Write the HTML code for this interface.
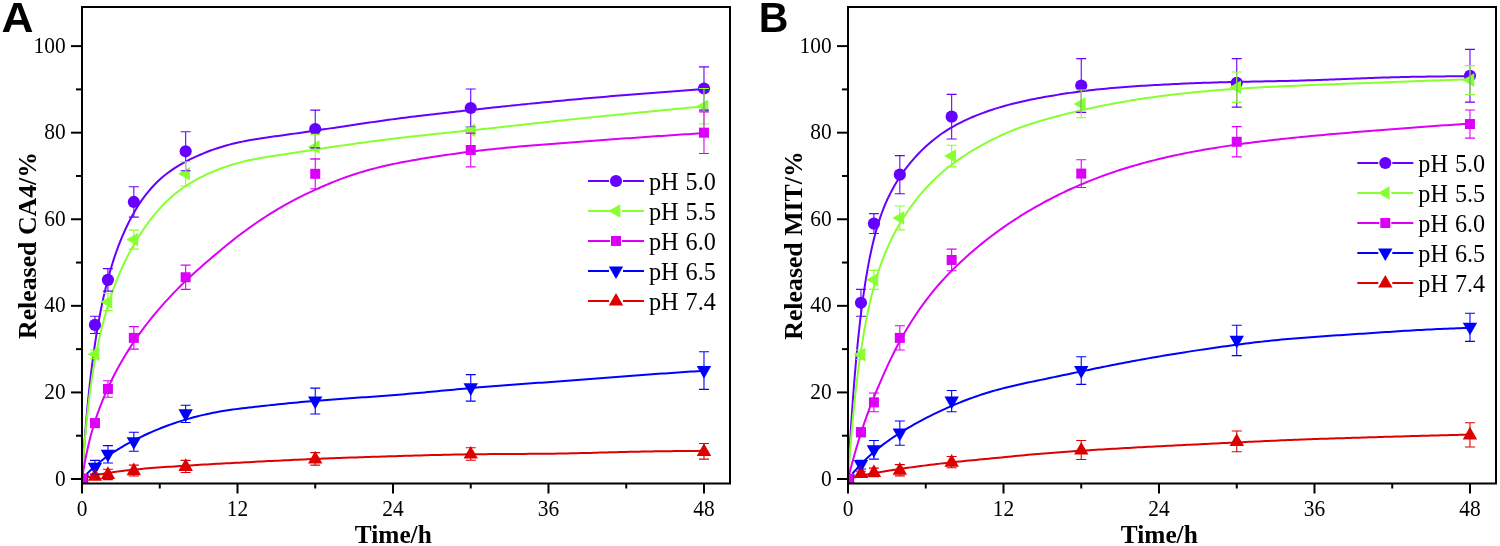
<!DOCTYPE html>
<html><head><meta charset="utf-8"><style>
html,body{margin:0;padding:0;background:#fff;overflow:hidden;}
svg{display:block;will-change:transform;}
.tk{font-family:"Liberation Serif",serif;font-size:23.8px;fill:#000;}
.ti{font-family:"Liberation Serif",serif;font-size:25.3px;font-weight:bold;fill:#000;}
.ti2{font-family:"Liberation Serif",serif;font-size:25.8px;font-weight:bold;fill:#000;}
.lg{font-family:"Liberation Serif",serif;font-size:24.2px;word-spacing:1px;fill:#000;}
.lt{font-family:"Liberation Sans",sans-serif;font-size:41px;font-weight:bold;fill:#000;}
</style></head><body>
<svg width="1500" height="546" viewBox="0 0 1500 546">
<defs><clipPath id="ca"><rect x="82" y="7" width="648" height="476.5"/></clipPath>
<clipPath id="cb"><rect x="848" y="7" width="648" height="476.5"/></clipPath></defs>
<g clip-path="url(#ca)"><polyline points="82.00,479.00 82.65,468.78 83.30,459.09 83.94,449.89 84.59,441.15 85.24,432.84 85.89,424.93 86.54,417.39 87.18,410.20 87.83,403.33 88.48,396.77 89.13,390.49 89.77,384.47 90.42,378.71 91.07,373.18 91.72,367.86 92.37,362.76 93.01,357.84 93.66,353.11 94.31,348.55 94.96,344.14 95.61,339.87 96.25,335.74 96.90,331.74 97.55,327.87 98.20,324.13 98.85,320.50 99.49,316.98 100.14,313.56 100.79,310.24 101.44,307.02 102.08,303.89 102.73,300.85 103.38,297.88 104.03,295.00 104.68,292.19 105.32,289.46 105.97,286.80 106.62,284.20 107.27,281.66 107.92,279.19 108.56,276.78 109.21,274.42 109.86,272.12 110.51,269.87 111.16,267.68 111.80,265.53 112.45,263.43 113.10,261.37 113.75,259.36 114.40,257.39 115.04,255.47 115.69,253.59 116.34,251.75 116.99,249.94 117.63,248.17 118.28,246.43 118.93,244.72 119.58,243.04 120.23,241.40 120.87,239.79 122.17,236.65 125.42,229.25 128.67,222.47 131.92,216.25 135.17,210.53 138.42,205.27 141.67,200.42 144.92,195.94 148.17,191.81 151.42,188.01 154.67,184.50 157.92,181.27 161.17,178.29 164.42,175.53 167.67,172.98 170.93,170.62 174.18,168.41 177.43,166.35 180.68,164.42 183.93,162.60 187.18,160.88 190.43,159.23 193.68,157.66 196.93,156.16 200.18,154.72 203.43,153.35 206.68,152.04 209.93,150.79 213.18,149.61 216.43,148.49 219.68,147.44 222.93,146.45 226.18,145.51 229.43,144.64 232.68,143.81 235.93,143.03 239.18,142.30 242.43,141.61 245.68,140.96 248.93,140.35 252.18,139.77 255.43,139.22 258.68,138.70 261.94,138.20 265.19,137.72 268.44,137.26 271.69,136.81 274.94,136.36 278.19,135.91 281.44,135.46 284.69,135.01 287.94,134.55 291.19,134.09 294.44,133.63 297.69,133.16 300.94,132.69 304.19,132.22 307.44,131.75 310.69,131.27 313.94,130.79 317.19,130.31 320.44,129.83 323.69,129.35 326.94,128.87 330.19,128.38 333.44,127.90 336.69,127.42 339.94,126.93 343.19,126.45 346.44,125.96 349.69,125.48 352.95,125.00 356.20,124.51 359.45,124.03 362.70,123.55 365.95,123.07 369.20,122.60 372.45,122.12 375.70,121.65 378.95,121.18 382.20,120.72 385.45,120.26 388.70,119.81 391.95,119.37 395.20,118.93 398.45,118.50 401.70,118.08 404.95,117.66 408.20,117.25 411.45,116.85 414.70,116.46 417.95,116.07 421.20,115.68 424.45,115.30 427.70,114.93 430.95,114.55 434.20,114.18 437.45,113.81 440.70,113.43 443.96,113.06 447.21,112.69 450.46,112.32 453.71,111.95 456.96,111.58 460.21,111.21 463.46,110.85 466.71,110.48 469.96,110.11 473.21,109.75 476.46,109.39 479.71,109.03 482.96,108.67 486.21,108.32 489.46,107.96 492.71,107.61 495.96,107.26 499.21,106.91 502.46,106.57 505.71,106.22 508.96,105.88 512.21,105.54 515.46,105.20 518.71,104.87 521.96,104.53 525.21,104.20 528.46,103.87 531.71,103.54 534.97,103.22 538.22,102.90 541.47,102.58 544.72,102.26 547.97,101.94 551.22,101.63 554.47,101.32 557.72,101.01 560.97,100.70 564.22,100.40 567.47,100.10 570.72,99.80 573.97,99.50 577.22,99.21 580.47,98.91 583.72,98.62 586.97,98.33 590.22,98.05 593.47,97.76 596.72,97.48 599.97,97.20 603.22,96.92 606.47,96.65 609.72,96.37 612.97,96.10 616.22,95.83 619.47,95.56 622.73,95.29 625.98,95.02 629.23,94.75 632.48,94.49 635.73,94.22 638.98,93.96 642.23,93.70 645.48,93.44 648.73,93.18 651.98,92.92 655.23,92.67 658.48,92.41 661.73,92.16 664.98,91.91 668.23,91.65 671.48,91.40 674.73,91.15 677.98,90.90 681.23,90.66 684.48,90.41 687.73,90.17 690.98,89.92 694.23,89.68 697.48,89.44 700.73,89.20 703.98,88.96" fill="none" stroke="#6600ff" stroke-width="2.0" stroke-linejoin="round"/>
<polyline points="82.00,479.00 82.65,469.18 83.30,460.01 83.94,451.42 84.59,443.37 85.24,435.82 85.89,428.70 86.54,422.00 87.18,415.68 87.83,409.70 88.48,404.04 89.13,398.66 89.77,393.55 90.42,388.69 91.07,384.05 91.72,379.62 92.37,375.39 93.01,371.32 93.66,367.42 94.31,363.68 94.96,360.07 95.61,356.54 96.25,353.14 96.90,349.84 97.55,346.65 98.20,343.56 98.85,340.55 99.49,337.63 100.14,334.79 100.79,332.03 101.44,329.34 102.08,326.71 102.73,324.15 103.38,321.64 104.03,319.20 104.68,316.80 105.32,314.47 105.97,312.18 106.62,309.93 107.27,307.74 107.92,305.59 108.56,303.48 109.21,301.42 109.86,299.39 110.51,297.41 111.16,295.46 111.80,293.55 112.45,291.68 113.10,289.84 113.75,288.03 114.40,286.26 115.04,284.56 115.69,282.88 116.34,281.23 116.99,279.60 117.63,278.01 118.28,276.44 118.93,274.89 119.58,273.36 120.23,271.86 120.87,270.39 122.17,267.50 125.42,260.60 128.67,254.17 131.92,248.14 135.17,242.48 138.42,237.14 141.67,232.09 144.92,227.30 148.17,222.76 151.42,218.47 154.67,214.41 157.92,210.57 161.17,206.96 164.42,203.56 167.67,200.37 170.93,197.39 174.18,194.59 177.43,191.98 180.68,189.53 183.93,187.24 187.18,185.09 190.43,183.07 193.68,181.17 196.93,179.36 200.18,177.65 203.43,176.02 206.68,174.47 209.93,172.99 213.18,171.58 216.43,170.25 219.68,168.98 222.93,167.78 226.18,166.64 229.43,165.56 232.68,164.55 235.93,163.60 239.18,162.71 242.43,161.87 245.68,161.08 248.93,160.35 252.18,159.66 255.43,159.02 258.68,158.42 261.94,157.85 265.19,157.31 268.44,156.79 271.69,156.29 274.94,155.79 278.19,155.30 281.44,154.81 284.69,154.31 287.94,153.81 291.19,153.31 294.44,152.80 297.69,152.29 300.94,151.78 304.19,151.27 307.44,150.76 310.69,150.25 313.94,149.75 317.19,149.25 320.44,148.75 323.69,148.25 326.94,147.77 330.19,147.28 333.44,146.80 336.69,146.32 339.94,145.85 343.19,145.38 346.44,144.91 349.69,144.45 352.95,143.99 356.20,143.54 359.45,143.09 362.70,142.64 365.95,142.21 369.20,141.77 372.45,141.34 375.70,140.92 378.95,140.50 382.20,140.08 385.45,139.67 388.70,139.27 391.95,138.87 395.20,138.47 398.45,138.08 401.70,137.70 404.95,137.32 408.20,136.94 411.45,136.57 414.70,136.21 417.95,135.85 421.20,135.49 424.45,135.14 427.70,134.79 430.95,134.44 434.20,134.10 437.45,133.76 440.70,133.43 443.96,133.09 447.21,132.76 450.46,132.43 453.71,132.10 456.96,131.77 460.21,131.44 463.46,131.11 466.71,130.78 469.96,130.45 473.21,130.11 476.46,129.77 479.71,129.43 482.96,129.08 486.21,128.73 489.46,128.38 492.71,128.03 495.96,127.68 499.21,127.32 502.46,126.96 505.71,126.60 508.96,126.24 512.21,125.88 515.46,125.52 518.71,125.16 521.96,124.80 525.21,124.44 528.46,124.08 531.71,123.72 534.97,123.35 538.22,122.99 541.47,122.64 544.72,122.28 547.97,121.92 551.22,121.56 554.47,121.21 557.72,120.86 560.97,120.51 564.22,120.16 567.47,119.82 570.72,119.47 573.97,119.13 577.22,118.79 580.47,118.45 583.72,118.12 586.97,117.78 590.22,117.45 593.47,117.12 596.72,116.79 599.97,116.46 603.22,116.13 606.47,115.81 609.72,115.48 612.97,115.16 616.22,114.83 619.47,114.51 622.73,114.19 625.98,113.87 629.23,113.55 632.48,113.23 635.73,112.91 638.98,112.59 642.23,112.27 645.48,111.96 648.73,111.64 651.98,111.32 655.23,111.01 658.48,110.69 661.73,110.37 664.98,110.06 668.23,109.74 671.48,109.42 674.73,109.11 677.98,108.79 681.23,108.48 684.48,108.16 687.73,107.85 690.98,107.53 694.23,107.22 697.48,106.90 700.73,106.59 703.98,106.27" fill="none" stroke="#88ff30" stroke-width="2.0" stroke-linejoin="round"/>
<polyline points="82.00,479.00 82.65,474.89 83.30,470.96 83.94,467.21 84.59,463.61 85.24,460.17 85.89,456.86 86.54,453.69 87.18,450.64 87.83,447.71 88.48,444.89 89.13,442.17 89.77,439.55 90.42,437.01 91.07,434.57 91.72,432.20 92.37,429.91 93.01,427.69 93.66,425.54 94.31,423.44 94.96,421.41 95.61,419.41 96.25,417.46 96.90,415.56 97.55,413.70 98.20,411.88 98.85,410.10 99.49,408.36 100.14,406.65 100.79,404.97 101.44,403.32 102.08,401.70 102.73,400.11 103.38,398.54 104.03,396.99 104.68,395.47 105.32,393.96 105.97,392.48 106.62,391.02 107.27,389.57 107.92,388.14 108.56,386.72 109.21,385.32 109.86,383.93 110.51,382.56 111.16,381.20 111.80,379.85 112.45,378.51 113.10,377.19 113.75,375.87 114.40,374.56 115.04,373.33 115.69,372.12 116.34,370.91 116.99,369.72 117.63,368.54 118.28,367.36 118.93,366.20 119.58,365.05 120.23,363.91 120.87,362.78 122.17,360.54 125.42,355.09 128.67,349.85 131.92,344.81 135.17,339.97 138.42,335.30 141.67,330.80 144.92,326.45 148.17,322.24 151.42,318.16 154.67,314.20 157.92,310.34 161.17,306.59 164.42,302.92 167.67,299.34 170.93,295.84 174.18,292.43 177.43,289.08 180.68,285.82 183.93,282.62 187.18,279.50 190.43,276.45 193.68,273.46 196.93,270.52 200.18,267.63 203.43,264.77 206.68,261.95 209.93,259.15 213.18,256.38 216.43,253.64 219.68,250.92 222.93,248.23 226.18,245.58 229.43,242.96 232.68,240.38 235.93,237.83 239.18,235.33 242.43,232.87 245.68,230.45 248.93,228.08 252.18,225.76 255.43,223.49 258.68,221.26 261.94,219.09 265.19,216.97 268.44,214.89 271.69,212.86 274.94,210.87 278.19,208.94 281.44,207.04 284.69,205.19 287.94,203.38 291.19,201.62 294.44,199.89 297.69,198.20 300.94,196.55 304.19,194.94 307.44,193.36 310.69,191.81 313.94,190.30 317.19,188.82 320.44,187.38 323.69,185.96 326.94,184.58 330.19,183.23 333.44,181.91 336.69,180.63 339.94,179.38 343.19,178.17 346.44,177.00 349.69,175.86 352.95,174.76 356.20,173.70 359.45,172.67 362.70,171.69 365.95,170.74 369.20,169.83 372.45,168.95 375.70,168.11 378.95,167.29 382.20,166.51 385.45,165.75 388.70,165.02 391.95,164.32 395.20,163.64 398.45,162.97 401.70,162.33 404.95,161.71 408.20,161.11 411.45,160.52 414.70,159.94 417.95,159.39 421.20,158.84 424.45,158.31 427.70,157.78 430.95,157.27 434.20,156.77 437.45,156.28 440.70,155.79 443.96,155.31 447.21,154.84 450.46,154.37 453.71,153.92 456.96,153.47 460.21,153.03 463.46,152.59 466.71,152.17 469.96,151.76 473.21,151.36 476.46,150.96 479.71,150.58 482.96,150.21 486.21,149.84 489.46,149.49 492.71,149.14 495.96,148.80 499.21,148.46 502.46,148.14 505.71,147.82 508.96,147.51 512.21,147.20 515.46,146.90 518.71,146.60 521.96,146.31 525.21,146.03 528.46,145.75 531.71,145.47 534.97,145.20 538.22,144.93 541.47,144.67 544.72,144.40 547.97,144.15 551.22,143.89 554.47,143.63 557.72,143.38 560.97,143.13 564.22,142.88 567.47,142.63 570.72,142.39 573.97,142.14 577.22,141.90 580.47,141.66 583.72,141.42 586.97,141.18 590.22,140.94 593.47,140.70 596.72,140.46 599.97,140.22 603.22,139.99 606.47,139.75 609.72,139.52 612.97,139.29 616.22,139.06 619.47,138.83 622.73,138.60 625.98,138.37 629.23,138.14 632.48,137.91 635.73,137.68 638.98,137.45 642.23,137.23 645.48,137.00 648.73,136.78 651.98,136.55 655.23,136.33 658.48,136.11 661.73,135.89 664.98,135.67 668.23,135.45 671.48,135.23 674.73,135.01 677.98,134.80 681.23,134.59 684.48,134.37 687.73,134.16 690.98,133.95 694.23,133.75 697.48,133.54 700.73,133.34 703.98,133.14" fill="none" stroke="#dc00f8" stroke-width="2.0" stroke-linejoin="round"/>
<polyline points="82.00,479.00 82.65,478.30 83.30,477.60 83.94,476.91 84.59,476.23 85.24,475.55 85.89,474.88 86.54,474.22 87.18,473.56 87.83,472.91 88.48,472.27 89.13,471.63 89.77,471.00 90.42,470.37 91.07,469.75 91.72,469.14 92.37,468.53 93.01,467.93 93.66,467.33 94.31,466.74 94.96,466.16 95.61,465.59 96.25,465.02 96.90,464.46 97.55,463.91 98.20,463.37 98.85,462.83 99.49,462.29 100.14,461.77 100.79,461.25 101.44,460.73 102.08,460.22 102.73,459.72 103.38,459.23 104.03,458.74 104.68,458.25 105.32,457.77 105.97,457.30 106.62,456.83 107.27,456.37 107.92,455.91 108.56,455.46 109.21,455.02 109.86,454.58 110.51,454.15 111.16,453.72 111.80,453.29 112.45,452.87 113.10,452.46 113.75,452.05 114.40,451.65 115.04,451.23 115.69,450.81 116.34,450.40 116.99,449.99 117.63,449.58 118.28,449.18 118.93,448.78 119.58,448.38 120.23,447.99 120.87,447.60 122.17,446.83 125.42,444.96 128.67,443.16 131.92,441.42 135.17,439.75 138.42,438.13 141.67,436.55 144.92,435.02 148.17,433.53 151.42,432.09 154.67,430.69 157.92,429.34 161.17,428.03 164.42,426.76 167.67,425.54 170.93,424.36 174.18,423.23 177.43,422.14 180.68,421.09 183.93,420.08 187.18,419.11 190.43,418.19 193.68,417.30 196.93,416.46 200.18,415.65 203.43,414.88 206.68,414.15 209.93,413.46 213.18,412.80 216.43,412.18 219.68,411.60 222.93,411.04 226.18,410.52 229.43,410.03 232.68,409.56 235.93,409.12 239.18,408.70 242.43,408.30 245.68,407.91 248.93,407.54 252.18,407.17 255.43,406.80 258.68,406.44 261.94,406.08 265.19,405.73 268.44,405.38 271.69,405.03 274.94,404.68 278.19,404.35 281.44,404.01 284.69,403.68 287.94,403.36 291.19,403.04 294.44,402.72 297.69,402.41 300.94,402.11 304.19,401.81 307.44,401.52 310.69,401.24 313.94,400.97 317.19,400.70 320.44,400.44 323.69,400.18 326.94,399.93 330.19,399.69 333.44,399.45 336.69,399.21 339.94,398.98 343.19,398.74 346.44,398.51 349.69,398.28 352.95,398.06 356.20,397.83 359.45,397.60 362.70,397.37 365.95,397.14 369.20,396.91 372.45,396.67 375.70,396.44 378.95,396.20 382.20,395.95 385.45,395.71 388.70,395.46 391.95,395.20 395.20,394.94 398.45,394.68 401.70,394.41 404.95,394.13 408.20,393.85 411.45,393.57 414.70,393.28 417.95,392.98 421.20,392.68 424.45,392.39 427.70,392.08 430.95,391.78 434.20,391.47 437.45,391.17 440.70,390.86 443.96,390.56 447.21,390.25 450.46,389.95 453.71,389.64 456.96,389.34 460.21,389.04 463.46,388.75 466.71,388.46 469.96,388.17 473.21,387.89 476.46,387.61 479.71,387.34 482.96,387.07 486.21,386.80 489.46,386.54 492.71,386.28 495.96,386.02 499.21,385.77 502.46,385.52 505.71,385.27 508.96,385.02 512.21,384.78 515.46,384.54 518.71,384.30 521.96,384.06 525.21,383.82 528.46,383.58 531.71,383.34 534.97,383.11 538.22,382.87 541.47,382.63 544.72,382.40 547.97,382.16 551.22,381.92 554.47,381.68 557.72,381.44 560.97,381.19 564.22,380.95 567.47,380.70 570.72,380.46 573.97,380.21 577.22,379.96 580.47,379.71 583.72,379.46 586.97,379.20 590.22,378.95 593.47,378.70 596.72,378.45 599.97,378.19 603.22,377.94 606.47,377.69 609.72,377.44 612.97,377.19 616.22,376.94 619.47,376.69 622.73,376.44 625.98,376.20 629.23,375.95 632.48,375.71 635.73,375.47 638.98,375.23 642.23,374.99 645.48,374.76 648.73,374.52 651.98,374.29 655.23,374.06 658.48,373.83 661.73,373.61 664.98,373.38 668.23,373.16 671.48,372.94 674.73,372.71 677.98,372.49 681.23,372.27 684.48,372.06 687.73,371.84 690.98,371.62 694.23,371.40 697.48,371.19 700.73,370.97 703.98,370.75" fill="none" stroke="#0000ff" stroke-width="2.0" stroke-linejoin="round"/>
<polyline points="82.00,479.00 82.65,478.78 83.30,478.57 83.94,478.37 84.59,478.16 85.24,477.97 85.89,477.77 86.54,477.58 87.18,477.40 87.83,477.22 88.48,477.04 89.13,476.87 89.77,476.70 90.42,476.53 91.07,476.36 91.72,476.20 92.37,476.05 93.01,475.89 93.66,475.74 94.31,475.59 94.96,475.45 95.61,475.30 96.25,475.16 96.90,475.03 97.55,474.89 98.20,474.76 98.85,474.63 99.49,474.50 100.14,474.37 100.79,474.25 101.44,474.12 102.08,474.00 102.73,473.88 103.38,473.77 104.03,473.65 104.68,473.54 105.32,473.42 105.97,473.31 106.62,473.20 107.27,473.10 107.92,472.99 108.56,472.88 109.21,472.78 109.86,472.68 110.51,472.57 111.16,472.47 111.80,472.37 112.45,472.28 113.10,472.18 113.75,472.08 114.40,471.99 115.04,471.90 115.69,471.80 116.34,471.72 116.99,471.63 117.63,471.54 118.28,471.45 118.93,471.37 119.58,471.28 120.23,471.20 120.87,471.12 122.17,470.96 125.42,470.57 128.67,470.20 131.92,469.85 135.17,469.52 138.42,469.21 141.67,468.90 144.92,468.61 148.17,468.34 151.42,468.07 154.67,467.81 157.92,467.56 161.17,467.32 164.42,467.09 167.67,466.86 170.93,466.64 174.18,466.42 177.43,466.20 180.68,465.99 183.93,465.79 187.18,465.58 190.43,465.38 193.68,465.19 196.93,464.99 200.18,464.80 203.43,464.61 206.68,464.42 209.93,464.24 213.18,464.05 216.43,463.87 219.68,463.69 222.93,463.51 226.18,463.34 229.43,463.16 232.68,462.99 235.93,462.81 239.18,462.64 242.43,462.47 245.68,462.30 248.93,462.13 252.18,461.96 255.43,461.79 258.68,461.62 261.94,461.46 265.19,461.29 268.44,461.12 271.69,460.96 274.94,460.80 278.19,460.63 281.44,460.47 284.69,460.32 287.94,460.16 291.19,460.00 294.44,459.85 297.69,459.70 300.94,459.55 304.19,459.40 307.44,459.26 310.69,459.12 313.94,458.98 317.19,458.84 320.44,458.71 323.69,458.58 326.94,458.45 330.19,458.33 333.44,458.20 336.69,458.08 339.94,457.96 343.19,457.85 346.44,457.73 349.69,457.62 352.95,457.50 356.20,457.39 359.45,457.28 362.70,457.17 365.95,457.07 369.20,456.96 372.45,456.86 375.70,456.75 378.95,456.65 382.20,456.55 385.45,456.45 388.70,456.35 391.95,456.25 395.20,456.15 398.45,456.05 401.70,455.96 404.95,455.86 408.20,455.76 411.45,455.67 414.70,455.57 417.95,455.48 421.20,455.39 424.45,455.30 427.70,455.21 430.95,455.12 434.20,455.04 437.45,454.96 440.70,454.88 443.96,454.80 447.21,454.73 450.46,454.66 453.71,454.59 456.96,454.52 460.21,454.46 463.46,454.41 466.71,454.36 469.96,454.31 473.21,454.26 476.46,454.22 479.71,454.19 482.96,454.16 486.21,454.13 489.46,454.10 492.71,454.08 495.96,454.05 499.21,454.03 502.46,454.01 505.71,454.00 508.96,453.98 512.21,453.96 515.46,453.95 518.71,453.93 521.96,453.91 525.21,453.89 528.46,453.87 531.71,453.85 534.97,453.83 538.22,453.80 541.47,453.77 544.72,453.74 547.97,453.71 551.22,453.67 554.47,453.63 557.72,453.58 560.97,453.53 564.22,453.47 567.47,453.41 570.72,453.34 573.97,453.27 577.22,453.20 580.47,453.12 583.72,453.04 586.97,452.96 590.22,452.88 593.47,452.79 596.72,452.71 599.97,452.62 603.22,452.53 606.47,452.45 609.72,452.36 612.97,452.27 616.22,452.18 619.47,452.10 622.73,452.02 625.98,451.93 629.23,451.86 632.48,451.78 635.73,451.71 638.98,451.64 642.23,451.57 645.48,451.51 648.73,451.45 651.98,451.40 655.23,451.34 658.48,451.29 661.73,451.25 664.98,451.21 668.23,451.16 671.48,451.13 674.73,451.09 677.98,451.06 681.23,451.02 684.48,450.99 687.73,450.96 690.98,450.93 694.23,450.91 697.48,450.88 700.73,450.85 703.98,450.83" fill="none" stroke="#dd0000" stroke-width="2.0" stroke-linejoin="round"/>
<circle cx="94.96" cy="324.89" r="6.1" fill="#6600ff"/>
<circle cx="107.92" cy="279.87" r="6.1" fill="#6600ff"/>
<circle cx="133.83" cy="201.94" r="6.1" fill="#6600ff"/>
<circle cx="185.66" cy="151.29" r="6.1" fill="#6600ff"/>
<circle cx="315.24" cy="129.00" r="6.1" fill="#6600ff"/>
<circle cx="470.74" cy="108.00" r="6.1" fill="#6600ff"/>
<circle cx="703.98" cy="88.52" r="6.1" fill="#6600ff"/>
<path d="M99.26,347.52v13.6L87.36,354.32Z" fill="#88ff30"/>
<path d="M112.22,295.14v13.6L100.32,301.94Z" fill="#88ff30"/>
<path d="M138.13,232.81v13.6L126.23,239.61Z" fill="#88ff30"/>
<path d="M189.96,167.01v13.6L178.06,173.81Z" fill="#88ff30"/>
<path d="M319.54,140.17v13.6L307.64,146.97Z" fill="#88ff30"/>
<path d="M475.04,123.46v13.6L463.14,130.26Z" fill="#88ff30"/>
<path d="M708.28,99.47v13.6L696.38,106.27Z" fill="#88ff30"/>
<rect x="89.96" y="418.16" width="10" height="10" fill="#dc00f8"/>
<rect x="102.92" y="383.96" width="10" height="10" fill="#dc00f8"/>
<rect x="128.83" y="332.87" width="10" height="10" fill="#dc00f8"/>
<rect x="180.66" y="272.27" width="10" height="10" fill="#dc00f8"/>
<rect x="310.24" y="168.81" width="10" height="10" fill="#dc00f8"/>
<rect x="465.74" y="145.00" width="10" height="10" fill="#dc00f8"/>
<rect x="698.98" y="127.68" width="10" height="10" fill="#dc00f8"/>
<path d="M87.76,462.71h14.4L94.96,475.41Z" fill="#0000ff"/>
<path d="M100.72,449.72h14.4L107.92,462.42Z" fill="#0000ff"/>
<path d="M126.63,437.17h14.4L133.83,449.87Z" fill="#0000ff"/>
<path d="M178.46,409.25h14.4L185.66,421.95Z" fill="#0000ff"/>
<path d="M308.04,396.48h14.4L315.24,409.18Z" fill="#0000ff"/>
<path d="M463.54,383.27h14.4L470.74,395.97Z" fill="#0000ff"/>
<path d="M696.78,365.96h14.4L703.98,378.66Z" fill="#0000ff"/>
<path d="M87.76,480.79h14.4L94.96,468.09Z" fill="#dd0000"/>
<path d="M100.72,479.01h14.4L107.92,466.31Z" fill="#dd0000"/>
<path d="M126.63,475.16h14.4L133.83,462.46Z" fill="#dd0000"/>
<path d="M178.46,471.05h14.4L185.66,458.35Z" fill="#dd0000"/>
<path d="M308.04,463.47h14.4L315.24,450.77Z" fill="#dd0000"/>
<path d="M463.54,458.62h14.4L470.74,445.92Z" fill="#dd0000"/>
<path d="M696.78,455.89h14.4L703.98,443.19Z" fill="#dd0000"/>
<path d="M74.80,483.60h14.4L82.00,470.90Z" fill="#dd0000"/>
<path d="M74.80,474.40h14.4L82.00,487.10Z" fill="#0000ff"/>
<path d="M86.30,472.20v13.6L74.40,479.00Z" fill="#88ff30"/>
<circle cx="82.00" cy="479.00" r="6.1" fill="#6600ff"/>
<rect x="77.00" y="474.00" width="10" height="10" fill="#dc00f8"/>
<path d="M94.96,316.23V333.55M89.96,316.23h10M89.96,333.55h10" stroke="#6600ff" stroke-width="1.1" fill="none"/>
<path d="M107.92,268.61V291.12M102.92,268.61h10M102.92,291.12h10" stroke="#6600ff" stroke-width="1.1" fill="none"/>
<path d="M133.83,186.79V217.10M128.83,186.79h10M128.83,217.10h10" stroke="#6600ff" stroke-width="1.1" fill="none"/>
<path d="M185.66,131.81V170.78M180.66,131.81h10M180.66,170.78h10" stroke="#6600ff" stroke-width="1.1" fill="none"/>
<path d="M315.24,110.17V147.83M310.24,110.17h10M310.24,147.83h10" stroke="#6600ff" stroke-width="1.1" fill="none"/>
<path d="M470.74,88.96V127.05M465.74,88.96h10M465.74,127.05h10" stroke="#6600ff" stroke-width="1.1" fill="none"/>
<path d="M703.98,66.88V110.17M698.98,66.88h10M698.98,110.17h10" stroke="#6600ff" stroke-width="1.1" fill="none"/>
<path d="M94.96,350.00V358.65M89.96,350.00h10M89.96,358.65h10" stroke="#88ff30" stroke-width="1.1" fill="none"/>
<path d="M107.92,293.29V310.60M102.92,293.29h10M102.92,310.60h10" stroke="#88ff30" stroke-width="1.1" fill="none"/>
<path d="M133.83,230.08V249.13M128.83,230.08h10M128.83,249.13h10" stroke="#88ff30" stroke-width="1.1" fill="none"/>
<path d="M185.66,161.68V185.93M180.66,161.68h10M180.66,185.93h10" stroke="#88ff30" stroke-width="1.1" fill="none"/>
<path d="M315.24,134.41V159.52M310.24,134.41h10M310.24,159.52h10" stroke="#88ff30" stroke-width="1.1" fill="none"/>
<path d="M470.74,127.23V133.29M465.74,127.23h10M465.74,133.29h10" stroke="#88ff30" stroke-width="1.1" fill="none"/>
<path d="M703.98,88.52V124.02M698.98,88.52h10M698.98,124.02h10" stroke="#88ff30" stroke-width="1.1" fill="none"/>
<path d="M94.96,418.83V427.48M89.96,418.83h10M89.96,427.48h10" stroke="#dc00f8" stroke-width="1.1" fill="none"/>
<path d="M107.92,380.73V397.18M102.92,380.73h10M102.92,397.18h10" stroke="#dc00f8" stroke-width="1.1" fill="none"/>
<path d="M133.83,326.62V349.13M128.83,326.62h10M128.83,349.13h10" stroke="#dc00f8" stroke-width="1.1" fill="none"/>
<path d="M185.66,265.15V289.39M180.66,265.15h10M180.66,289.39h10" stroke="#dc00f8" stroke-width="1.1" fill="none"/>
<path d="M315.24,158.87V188.74M310.24,158.87h10M310.24,188.74h10" stroke="#dc00f8" stroke-width="1.1" fill="none"/>
<path d="M470.74,133.11V166.88M465.74,133.11h10M465.74,166.88h10" stroke="#dc00f8" stroke-width="1.1" fill="none"/>
<path d="M703.98,111.90V153.46M698.98,111.90h10M698.98,153.46h10" stroke="#dc00f8" stroke-width="1.1" fill="none"/>
<path d="M94.96,460.39V474.24M89.96,460.39h10M89.96,474.24h10" stroke="#0000ff" stroke-width="1.1" fill="none"/>
<path d="M107.92,445.67V462.98M102.92,445.67h10M102.92,462.98h10" stroke="#0000ff" stroke-width="1.1" fill="none"/>
<path d="M133.83,432.25V451.29M128.83,432.25h10M128.83,451.29h10" stroke="#0000ff" stroke-width="1.1" fill="none"/>
<path d="M185.66,405.19V422.51M180.66,405.19h10M180.66,422.51h10" stroke="#0000ff" stroke-width="1.1" fill="none"/>
<path d="M315.24,388.09V414.06M310.24,388.09h10M310.24,414.06h10" stroke="#0000ff" stroke-width="1.1" fill="none"/>
<path d="M470.74,374.67V401.08M465.74,374.67h10M465.74,401.08h10" stroke="#0000ff" stroke-width="1.1" fill="none"/>
<path d="M703.98,351.73V389.39M698.98,351.73h10M698.98,389.39h10" stroke="#0000ff" stroke-width="1.1" fill="none"/>
<path d="M94.96,474.02V478.35M89.96,474.02h10M89.96,478.35h10" stroke="#dd0000" stroke-width="1.1" fill="none"/>
<path d="M107.92,469.22V479.61M102.92,469.22h10M102.92,479.61h10" stroke="#dd0000" stroke-width="1.1" fill="none"/>
<path d="M133.83,465.15V475.97M128.83,465.15h10M128.83,475.97h10" stroke="#dd0000" stroke-width="1.1" fill="none"/>
<path d="M185.66,460.39V472.51M180.66,460.39h10M180.66,472.51h10" stroke="#dd0000" stroke-width="1.1" fill="none"/>
<path d="M315.24,452.59V465.15M310.24,452.59h10M310.24,465.15h10" stroke="#dd0000" stroke-width="1.1" fill="none"/>
<path d="M470.74,447.74V460.30M465.74,447.74h10M465.74,460.30h10" stroke="#dd0000" stroke-width="1.1" fill="none"/>
<path d="M703.98,443.50V459.09M698.98,443.50h10M698.98,459.09h10" stroke="#dd0000" stroke-width="1.1" fill="none"/></g>
<g clip-path="url(#cb)"><polyline points="848.00,479.00 848.65,466.90 849.30,455.34 849.94,444.28 850.59,433.70 851.24,423.58 851.89,413.89 852.54,404.62 853.18,395.75 853.83,387.25 854.48,379.11 855.13,371.31 855.77,363.84 856.42,356.67 857.07,349.80 857.72,343.21 858.37,336.88 859.01,330.81 859.66,324.98 860.31,319.38 860.96,314.01 861.61,308.80 862.25,303.79 862.90,298.98 863.55,294.34 864.20,289.88 864.85,285.58 865.49,281.44 866.14,277.45 866.79,273.60 867.44,269.89 868.08,266.31 868.73,262.85 869.38,259.52 870.03,256.29 870.68,253.18 871.32,250.17 871.97,247.26 872.62,244.45 873.27,241.73 873.92,239.10 874.56,236.55 875.21,234.08 875.86,231.69 876.51,229.38 877.16,227.14 877.80,224.96 878.45,222.85 879.10,220.81 879.75,218.82 880.39,216.89 881.04,215.05 881.69,213.25 882.34,211.51 882.99,209.81 883.63,208.15 884.28,206.54 884.93,204.97 885.58,203.44 886.23,201.95 886.87,200.50 888.17,197.68 891.42,191.17 894.67,185.29 897.92,179.94 901.17,175.00 904.42,170.42 907.67,166.14 910.92,162.13 914.17,158.35 917.42,154.78 920.67,151.41 923.92,148.23 927.17,145.23 930.42,142.39 933.67,139.72 936.93,137.19 940.18,134.80 943.43,132.55 946.68,130.43 949.93,128.42 953.18,126.52 956.43,124.72 959.68,123.02 962.93,121.40 966.18,119.86 969.43,118.39 972.68,116.99 975.93,115.65 979.18,114.36 982.43,113.12 985.68,111.94 988.93,110.80 992.18,109.71 995.43,108.66 998.68,107.66 1001.93,106.69 1005.18,105.76 1008.43,104.87 1011.68,104.02 1014.93,103.20 1018.18,102.41 1021.43,101.66 1024.68,100.93 1027.94,100.23 1031.19,99.56 1034.44,98.91 1037.69,98.28 1040.94,97.67 1044.19,97.08 1047.44,96.51 1050.69,95.95 1053.94,95.40 1057.19,94.87 1060.44,94.35 1063.69,93.84 1066.94,93.35 1070.19,92.87 1073.44,92.40 1076.69,91.95 1079.94,91.52 1083.19,91.10 1086.44,90.71 1089.69,90.32 1092.94,89.96 1096.19,89.61 1099.44,89.27 1102.69,88.94 1105.94,88.63 1109.19,88.33 1112.44,88.04 1115.69,87.77 1118.95,87.50 1122.20,87.24 1125.45,86.99 1128.70,86.75 1131.95,86.52 1135.20,86.29 1138.45,86.08 1141.70,85.86 1144.95,85.66 1148.20,85.46 1151.45,85.26 1154.70,85.08 1157.95,84.89 1161.20,84.72 1164.45,84.55 1167.70,84.38 1170.95,84.22 1174.20,84.06 1177.45,83.91 1180.70,83.77 1183.95,83.62 1187.20,83.49 1190.45,83.35 1193.70,83.22 1196.95,83.10 1200.20,82.98 1203.45,82.86 1206.70,82.75 1209.96,82.65 1213.21,82.54 1216.46,82.44 1219.71,82.35 1222.96,82.26 1226.21,82.17 1229.46,82.08 1232.71,82.00 1235.96,81.93 1239.21,81.86 1242.46,81.79 1245.71,81.72 1248.96,81.66 1252.21,81.60 1255.46,81.54 1258.71,81.48 1261.96,81.42 1265.21,81.36 1268.46,81.30 1271.71,81.24 1274.96,81.18 1278.21,81.12 1281.46,81.05 1284.71,80.98 1287.96,80.91 1291.21,80.83 1294.46,80.75 1297.71,80.67 1300.97,80.57 1304.22,80.48 1307.47,80.37 1310.72,80.27 1313.97,80.16 1317.22,80.04 1320.47,79.92 1323.72,79.80 1326.97,79.67 1330.22,79.55 1333.47,79.42 1336.72,79.29 1339.97,79.16 1343.22,79.03 1346.47,78.90 1349.72,78.76 1352.97,78.63 1356.22,78.51 1359.47,78.38 1362.72,78.26 1365.97,78.13 1369.22,78.02 1372.47,77.90 1375.72,77.79 1378.97,77.68 1382.22,77.58 1385.47,77.48 1388.73,77.39 1391.98,77.31 1395.23,77.22 1398.48,77.14 1401.73,77.07 1404.98,77.00 1408.23,76.93 1411.48,76.87 1414.73,76.81 1417.98,76.75 1421.23,76.70 1424.48,76.64 1427.73,76.60 1430.98,76.55 1434.23,76.50 1437.48,76.46 1440.73,76.42 1443.98,76.38 1447.23,76.35 1450.48,76.31 1453.73,76.27 1456.98,76.24 1460.23,76.21 1463.48,76.17 1466.73,76.14 1469.98,76.11" fill="none" stroke="#6600ff" stroke-width="2.0" stroke-linejoin="round"/>
<polyline points="848.00,479.00 848.65,469.85 849.30,461.08 849.94,452.67 850.59,444.61 851.24,436.87 851.89,429.45 852.54,422.32 853.18,415.47 853.83,408.89 854.48,402.57 855.13,396.49 855.77,390.64 856.42,385.00 857.07,379.58 857.72,374.35 858.37,369.32 859.01,364.46 859.66,359.77 860.31,355.25 860.96,350.88 861.61,346.65 862.25,342.55 862.90,338.59 863.55,334.75 864.20,331.04 864.85,327.44 865.49,323.96 866.14,320.58 866.79,317.30 867.44,314.12 868.08,311.03 868.73,308.03 869.38,305.12 870.03,302.29 870.68,299.54 871.32,296.86 871.97,294.25 872.62,291.71 873.27,289.24 873.92,286.83 874.56,284.48 875.21,282.20 875.86,279.96 876.51,277.79 877.16,275.66 877.80,273.59 878.45,271.57 879.10,269.59 879.75,267.66 880.39,265.77 881.04,263.94 881.69,262.15 882.34,260.40 882.99,258.69 883.63,257.02 884.28,255.37 884.93,253.76 885.58,252.18 886.23,250.64 886.87,249.12 888.17,246.16 891.42,239.20 894.67,232.79 897.92,226.86 901.17,221.32 904.42,216.14 907.67,211.26 910.92,206.65 914.17,202.29 917.42,198.15 920.67,194.21 923.92,190.46 927.17,186.88 930.42,183.47 933.67,180.21 936.93,177.10 940.18,174.13 943.43,171.29 946.68,168.58 949.93,165.98 953.18,163.50 956.43,161.11 959.68,158.82 962.93,156.62 966.18,154.50 969.43,152.45 972.68,150.46 975.93,148.54 979.18,146.67 982.43,144.85 985.68,143.08 988.93,141.37 992.18,139.71 995.43,138.10 998.68,136.54 1001.93,135.03 1005.18,133.58 1008.43,132.17 1011.68,130.83 1014.93,129.53 1018.18,128.29 1021.43,127.10 1024.68,125.95 1027.94,124.85 1031.19,123.79 1034.44,122.76 1037.69,121.77 1040.94,120.81 1044.19,119.87 1047.44,118.95 1050.69,118.05 1053.94,117.17 1057.19,116.30 1060.44,115.44 1063.69,114.60 1066.94,113.77 1070.19,112.95 1073.44,112.15 1076.69,111.36 1079.94,110.59 1083.19,109.83 1086.44,109.09 1089.69,108.37 1092.94,107.67 1096.19,106.98 1099.44,106.30 1102.69,105.64 1105.94,105.00 1109.19,104.37 1112.44,103.75 1115.69,103.15 1118.95,102.56 1122.20,101.99 1125.45,101.42 1128.70,100.88 1131.95,100.34 1135.20,99.82 1138.45,99.31 1141.70,98.81 1144.95,98.33 1148.20,97.86 1151.45,97.39 1154.70,96.94 1157.95,96.51 1161.20,96.08 1164.45,95.66 1167.70,95.25 1170.95,94.86 1174.20,94.47 1177.45,94.10 1180.70,93.73 1183.95,93.37 1187.20,93.03 1190.45,92.69 1193.70,92.36 1196.95,92.04 1200.20,91.73 1203.45,91.42 1206.70,91.13 1209.96,90.84 1213.21,90.56 1216.46,90.29 1219.71,90.03 1222.96,89.78 1226.21,89.53 1229.46,89.29 1232.71,89.06 1235.96,88.84 1239.21,88.62 1242.46,88.41 1245.71,88.21 1248.96,88.02 1252.21,87.83 1255.46,87.64 1258.71,87.46 1261.96,87.29 1265.21,87.12 1268.46,86.96 1271.71,86.80 1274.96,86.64 1278.21,86.49 1281.46,86.34 1284.71,86.20 1287.96,86.05 1291.21,85.91 1294.46,85.77 1297.71,85.64 1300.97,85.50 1304.22,85.37 1307.47,85.24 1310.72,85.11 1313.97,84.98 1317.22,84.85 1320.47,84.72 1323.72,84.60 1326.97,84.47 1330.22,84.35 1333.47,84.22 1336.72,84.10 1339.97,83.98 1343.22,83.86 1346.47,83.73 1349.72,83.61 1352.97,83.49 1356.22,83.37 1359.47,83.25 1362.72,83.13 1365.97,83.01 1369.22,82.89 1372.47,82.77 1375.72,82.65 1378.97,82.53 1382.22,82.41 1385.47,82.29 1388.73,82.17 1391.98,82.05 1395.23,81.93 1398.48,81.81 1401.73,81.69 1404.98,81.57 1408.23,81.45 1411.48,81.33 1414.73,81.22 1417.98,81.10 1421.23,80.98 1424.48,80.86 1427.73,80.74 1430.98,80.62 1434.23,80.50 1437.48,80.38 1440.73,80.26 1443.98,80.15 1447.23,80.03 1450.48,79.91 1453.73,79.80 1456.98,79.68 1460.23,79.57 1463.48,79.45 1466.73,79.34 1469.98,79.23" fill="none" stroke="#88ff30" stroke-width="2.0" stroke-linejoin="round"/>
<polyline points="848.00,479.00 848.65,476.42 849.30,473.88 849.94,471.37 850.59,468.89 851.24,466.44 851.89,464.01 852.54,461.62 853.18,459.26 853.83,456.92 854.48,454.62 855.13,452.34 855.77,450.08 856.42,447.86 857.07,445.66 857.72,443.48 858.37,441.33 859.01,439.20 859.66,437.10 860.31,435.03 860.96,432.97 861.61,430.99 862.25,429.02 862.90,427.08 863.55,425.17 864.20,423.28 864.85,421.40 865.49,419.56 866.14,417.73 866.79,415.92 867.44,414.13 868.08,412.36 868.73,410.62 869.38,408.89 870.03,407.17 870.68,405.48 871.32,403.80 871.97,402.14 872.62,400.50 873.27,398.87 873.92,397.25 874.56,395.65 875.21,394.06 875.86,392.49 876.51,390.93 877.16,389.38 877.80,387.85 878.45,386.33 879.10,384.81 879.75,383.31 880.39,381.82 881.04,380.30 881.69,378.80 882.34,377.30 882.99,375.82 883.63,374.35 884.28,372.89 884.93,371.44 885.58,370.01 886.23,368.59 886.87,367.17 888.17,364.39 891.42,357.59 894.67,351.07 897.92,344.82 901.17,338.83 904.42,333.08 907.67,327.58 910.92,322.29 914.17,317.21 917.42,312.32 920.67,307.63 923.92,303.12 927.17,298.78 930.42,294.60 933.67,290.59 936.93,286.72 940.18,282.99 943.43,279.39 946.68,275.92 949.93,272.55 953.18,269.28 956.43,266.09 959.68,262.99 962.93,259.95 966.18,256.99 969.43,254.10 972.68,251.27 975.93,248.50 979.18,245.79 982.43,243.14 985.68,240.54 988.93,238.01 992.18,235.53 995.43,233.10 998.68,230.72 1001.93,228.40 1005.18,226.12 1008.43,223.90 1011.68,221.72 1014.93,219.58 1018.18,217.49 1021.43,215.45 1024.68,213.44 1027.94,211.48 1031.19,209.56 1034.44,207.67 1037.69,205.83 1040.94,204.02 1044.19,202.24 1047.44,200.50 1050.69,198.80 1053.94,197.13 1057.19,195.49 1060.44,193.88 1063.69,192.31 1066.94,190.77 1070.19,189.26 1073.44,187.79 1076.69,186.35 1079.94,184.94 1083.19,183.56 1086.44,182.21 1089.69,180.89 1092.94,179.61 1096.19,178.35 1099.44,177.12 1102.69,175.92 1105.94,174.75 1109.19,173.60 1112.44,172.48 1115.69,171.39 1118.95,170.32 1122.20,169.28 1125.45,168.26 1128.70,167.27 1131.95,166.30 1135.20,165.35 1138.45,164.42 1141.70,163.52 1144.95,162.64 1148.20,161.78 1151.45,160.93 1154.70,160.11 1157.95,159.31 1161.20,158.52 1164.45,157.76 1167.70,157.01 1170.95,156.28 1174.20,155.56 1177.45,154.87 1180.70,154.19 1183.95,153.52 1187.20,152.87 1190.45,152.23 1193.70,151.61 1196.95,151.01 1200.20,150.41 1203.45,149.83 1206.70,149.27 1209.96,148.71 1213.21,148.17 1216.46,147.64 1219.71,147.12 1222.96,146.62 1226.21,146.12 1229.46,145.63 1232.71,145.16 1235.96,144.69 1239.21,144.24 1242.46,143.79 1245.71,143.35 1248.96,142.92 1252.21,142.50 1255.46,142.09 1258.71,141.69 1261.96,141.29 1265.21,140.90 1268.46,140.52 1271.71,140.15 1274.96,139.78 1278.21,139.42 1281.46,139.06 1284.71,138.71 1287.96,138.37 1291.21,138.03 1294.46,137.70 1297.71,137.37 1300.97,137.05 1304.22,136.73 1307.47,136.42 1310.72,136.11 1313.97,135.80 1317.22,135.50 1320.47,135.20 1323.72,134.90 1326.97,134.61 1330.22,134.32 1333.47,134.04 1336.72,133.75 1339.97,133.47 1343.22,133.19 1346.47,132.92 1349.72,132.64 1352.97,132.37 1356.22,132.09 1359.47,131.82 1362.72,131.56 1365.97,131.29 1369.22,131.02 1372.47,130.76 1375.72,130.50 1378.97,130.24 1382.22,129.98 1385.47,129.72 1388.73,129.47 1391.98,129.21 1395.23,128.96 1398.48,128.71 1401.73,128.46 1404.98,128.21 1408.23,127.97 1411.48,127.72 1414.73,127.48 1417.98,127.24 1421.23,127.00 1424.48,126.76 1427.73,126.52 1430.98,126.29 1434.23,126.05 1437.48,125.82 1440.73,125.59 1443.98,125.36 1447.23,125.14 1450.48,124.91 1453.73,124.69 1456.98,124.47 1460.23,124.25 1463.48,124.03 1466.73,123.82 1469.98,123.60" fill="none" stroke="#dc00f8" stroke-width="2.0" stroke-linejoin="round"/>
<polyline points="848.00,479.00 848.65,478.19 849.30,477.39 849.94,476.60 850.59,475.81 851.24,475.04 851.89,474.27 852.54,473.50 853.18,472.75 853.83,472.00 854.48,471.26 855.13,470.52 855.77,469.80 856.42,469.08 857.07,468.36 857.72,467.66 858.37,466.96 859.01,466.26 859.66,465.57 860.31,464.89 860.96,464.22 861.61,463.55 862.25,462.88 862.90,462.22 863.55,461.57 864.20,460.92 864.85,460.28 865.49,459.65 866.14,459.02 866.79,458.40 867.44,457.78 868.08,457.17 868.73,456.56 869.38,455.96 870.03,455.37 870.68,454.78 871.32,454.20 871.97,453.62 872.62,453.05 873.27,452.48 873.92,451.92 874.56,451.37 875.21,450.82 875.86,450.27 876.51,449.73 877.16,449.20 877.80,448.67 878.45,448.15 879.10,447.63 879.75,447.12 880.39,446.61 881.04,446.11 881.69,445.60 882.34,445.11 882.99,444.62 883.63,444.13 884.28,443.64 884.93,443.16 885.58,442.69 886.23,442.21 886.87,441.75 888.17,440.82 891.42,438.55 894.67,436.37 897.92,434.24 901.17,432.18 904.42,430.17 907.67,428.20 910.92,426.29 914.17,424.42 917.42,422.59 920.67,420.82 923.92,419.10 927.17,417.42 930.42,415.78 933.67,414.19 936.93,412.62 940.18,411.09 943.43,409.59 946.68,408.12 949.93,406.68 953.18,405.27 956.43,403.90 959.68,402.57 962.93,401.28 966.18,400.02 969.43,398.81 972.68,397.63 975.93,396.49 979.18,395.38 982.43,394.31 985.68,393.28 988.93,392.28 992.18,391.31 995.43,390.38 998.68,389.48 1001.93,388.62 1005.18,387.78 1008.43,386.97 1011.68,386.19 1014.93,385.44 1018.18,384.70 1021.43,383.98 1024.68,383.27 1027.94,382.58 1031.19,381.89 1034.44,381.21 1037.69,380.53 1040.94,379.86 1044.19,379.18 1047.44,378.50 1050.69,377.82 1053.94,377.14 1057.19,376.46 1060.44,375.78 1063.69,375.10 1066.94,374.42 1070.19,373.74 1073.44,373.06 1076.69,372.39 1079.94,371.71 1083.19,371.03 1086.44,370.36 1089.69,369.69 1092.94,369.02 1096.19,368.35 1099.44,367.69 1102.69,367.03 1105.94,366.37 1109.19,365.72 1112.44,365.08 1115.69,364.44 1118.95,363.80 1122.20,363.18 1125.45,362.55 1128.70,361.94 1131.95,361.33 1135.20,360.73 1138.45,360.13 1141.70,359.54 1144.95,358.96 1148.20,358.38 1151.45,357.81 1154.70,357.24 1157.95,356.68 1161.20,356.12 1164.45,355.57 1167.70,355.03 1170.95,354.49 1174.20,353.96 1177.45,353.43 1180.70,352.91 1183.95,352.39 1187.20,351.88 1190.45,351.37 1193.70,350.87 1196.95,350.37 1200.20,349.88 1203.45,349.40 1206.70,348.91 1209.96,348.44 1213.21,347.97 1216.46,347.50 1219.71,347.05 1222.96,346.59 1226.21,346.14 1229.46,345.70 1232.71,345.26 1235.96,344.83 1239.21,344.40 1242.46,343.98 1245.71,343.56 1248.96,343.15 1252.21,342.75 1255.46,342.36 1258.71,341.98 1261.96,341.62 1265.21,341.26 1268.46,340.91 1271.71,340.58 1274.96,340.25 1278.21,339.93 1281.46,339.62 1284.71,339.33 1287.96,339.03 1291.21,338.75 1294.46,338.48 1297.71,338.21 1300.97,337.94 1304.22,337.69 1307.47,337.44 1310.72,337.19 1313.97,336.95 1317.22,336.72 1320.47,336.48 1323.72,336.26 1326.97,336.03 1330.22,335.81 1333.47,335.59 1336.72,335.37 1339.97,335.15 1343.22,334.94 1346.47,334.72 1349.72,334.51 1352.97,334.30 1356.22,334.08 1359.47,333.87 1362.72,333.65 1365.97,333.43 1369.22,333.21 1372.47,332.99 1375.72,332.77 1378.97,332.56 1382.22,332.34 1385.47,332.12 1388.73,331.90 1391.98,331.69 1395.23,331.48 1398.48,331.27 1401.73,331.06 1404.98,330.86 1408.23,330.66 1411.48,330.46 1414.73,330.27 1417.98,330.09 1421.23,329.90 1424.48,329.73 1427.73,329.56 1430.98,329.39 1434.23,329.23 1437.48,329.08 1440.73,328.94 1443.98,328.80 1447.23,328.67 1450.48,328.55 1453.73,328.43 1456.98,328.31 1460.23,328.20 1463.48,328.10 1466.73,327.99 1469.98,327.89" fill="none" stroke="#0000ff" stroke-width="2.0" stroke-linejoin="round"/>
<polyline points="848.00,479.00 848.65,478.82 849.30,478.65 849.94,478.48 850.59,478.31 851.24,478.14 851.89,477.97 852.54,477.81 853.18,477.65 853.83,477.49 854.48,477.33 855.13,477.17 855.77,477.02 856.42,476.86 857.07,476.71 857.72,476.56 858.37,476.41 859.01,476.26 859.66,476.12 860.31,475.97 860.96,475.83 861.61,475.69 862.25,475.55 862.90,475.41 863.55,475.27 864.20,475.14 864.85,475.00 865.49,474.87 866.14,474.73 866.79,474.60 867.44,474.47 868.08,474.34 868.73,474.21 869.38,474.09 870.03,473.96 870.68,473.84 871.32,473.71 871.97,473.59 872.62,473.47 873.27,473.34 873.92,473.22 874.56,473.10 875.21,472.99 875.86,472.87 876.51,472.75 877.16,472.64 877.80,472.52 878.45,472.41 879.10,472.29 879.75,472.18 880.39,472.07 881.04,471.96 881.69,471.85 882.34,471.74 882.99,471.63 883.63,471.52 884.28,471.41 884.93,471.30 885.58,471.20 886.23,471.09 886.87,470.99 888.17,470.78 891.42,470.26 894.67,469.76 897.92,469.26 901.17,468.78 904.42,468.30 907.67,467.83 910.92,467.38 914.17,466.92 917.42,466.48 920.67,466.05 923.92,465.62 927.17,465.21 930.42,464.80 933.67,464.40 936.93,464.01 940.18,463.63 943.43,463.26 946.68,462.89 949.93,462.54 953.18,462.19 956.43,461.85 959.68,461.51 962.93,461.18 966.18,460.85 969.43,460.53 972.68,460.21 975.93,459.90 979.18,459.58 982.43,459.27 985.68,458.96 988.93,458.65 992.18,458.34 995.43,458.02 998.68,457.71 1001.93,457.39 1005.18,457.07 1008.43,456.75 1011.68,456.43 1014.93,456.11 1018.18,455.79 1021.43,455.48 1024.68,455.17 1027.94,454.86 1031.19,454.56 1034.44,454.27 1037.69,453.98 1040.94,453.71 1044.19,453.43 1047.44,453.17 1050.69,452.91 1053.94,452.66 1057.19,452.42 1060.44,452.18 1063.69,451.94 1066.94,451.71 1070.19,451.49 1073.44,451.26 1076.69,451.04 1079.94,450.83 1083.19,450.62 1086.44,450.41 1089.69,450.20 1092.94,449.99 1096.19,449.79 1099.44,449.59 1102.69,449.40 1105.94,449.20 1109.19,449.01 1112.44,448.82 1115.69,448.63 1118.95,448.44 1122.20,448.26 1125.45,448.07 1128.70,447.89 1131.95,447.71 1135.20,447.53 1138.45,447.36 1141.70,447.18 1144.95,447.01 1148.20,446.84 1151.45,446.67 1154.70,446.50 1157.95,446.33 1161.20,446.16 1164.45,446.00 1167.70,445.83 1170.95,445.67 1174.20,445.50 1177.45,445.34 1180.70,445.18 1183.95,445.02 1187.20,444.86 1190.45,444.70 1193.70,444.54 1196.95,444.38 1200.20,444.22 1203.45,444.06 1206.70,443.90 1209.96,443.75 1213.21,443.59 1216.46,443.43 1219.71,443.27 1222.96,443.12 1226.21,442.96 1229.46,442.80 1232.71,442.64 1235.96,442.49 1239.21,442.33 1242.46,442.17 1245.71,442.01 1248.96,441.85 1252.21,441.70 1255.46,441.54 1258.71,441.38 1261.96,441.23 1265.21,441.08 1268.46,440.93 1271.71,440.78 1274.96,440.63 1278.21,440.49 1281.46,440.35 1284.71,440.21 1287.96,440.08 1291.21,439.95 1294.46,439.82 1297.71,439.70 1300.97,439.57 1304.22,439.45 1307.47,439.33 1310.72,439.21 1313.97,439.10 1317.22,438.99 1320.47,438.87 1323.72,438.77 1326.97,438.66 1330.22,438.55 1333.47,438.44 1336.72,438.34 1339.97,438.24 1343.22,438.13 1346.47,438.03 1349.72,437.93 1352.97,437.83 1356.22,437.73 1359.47,437.63 1362.72,437.53 1365.97,437.43 1369.22,437.34 1372.47,437.24 1375.72,437.14 1378.97,437.05 1382.22,436.95 1385.47,436.86 1388.73,436.76 1391.98,436.67 1395.23,436.58 1398.48,436.49 1401.73,436.39 1404.98,436.30 1408.23,436.21 1411.48,436.12 1414.73,436.03 1417.98,435.94 1421.23,435.85 1424.48,435.77 1427.73,435.68 1430.98,435.59 1434.23,435.51 1437.48,435.42 1440.73,435.33 1443.98,435.25 1447.23,435.16 1450.48,435.08 1453.73,435.00 1456.98,434.91 1460.23,434.83 1463.48,434.75 1466.73,434.67 1469.98,434.59" fill="none" stroke="#dd0000" stroke-width="2.0" stroke-linejoin="round"/>
<circle cx="860.96" cy="302.81" r="6.1" fill="#6600ff"/>
<circle cx="873.92" cy="223.59" r="6.1" fill="#6600ff"/>
<circle cx="899.83" cy="174.67" r="6.1" fill="#6600ff"/>
<circle cx="951.66" cy="116.66" r="6.1" fill="#6600ff"/>
<circle cx="1081.24" cy="85.49" r="6.1" fill="#6600ff"/>
<circle cx="1236.74" cy="82.90" r="6.1" fill="#6600ff"/>
<circle cx="1469.98" cy="75.75" r="6.1" fill="#6600ff"/>
<path d="M865.26,347.96v13.6L853.36,354.76Z" fill="#88ff30"/>
<path d="M878.22,273.07v13.6L866.32,279.87Z" fill="#88ff30"/>
<path d="M904.13,211.16v13.6L892.23,217.96Z" fill="#88ff30"/>
<path d="M955.96,149.26v13.6L944.06,156.06Z" fill="#88ff30"/>
<path d="M1085.54,97.09v13.6L1073.64,103.89Z" fill="#88ff30"/>
<path d="M1241.04,80.43v13.6L1229.14,87.23Z" fill="#88ff30"/>
<path d="M1474.28,73.28v13.6L1462.38,80.08Z" fill="#88ff30"/>
<rect x="855.96" y="427.25" width="10" height="10" fill="#dc00f8"/>
<rect x="868.92" y="397.38" width="10" height="10" fill="#dc00f8"/>
<rect x="894.83" y="332.87" width="10" height="10" fill="#dc00f8"/>
<rect x="946.66" y="254.95" width="10" height="10" fill="#dc00f8"/>
<rect x="1076.24" y="168.59" width="10" height="10" fill="#dc00f8"/>
<rect x="1231.74" y="136.77" width="10" height="10" fill="#dc00f8"/>
<rect x="1464.98" y="119.02" width="10" height="10" fill="#dc00f8"/>
<path d="M853.76,460.11h14.4L860.96,472.81Z" fill="#0000ff"/>
<path d="M866.72,445.18h14.4L873.92,457.88Z" fill="#0000ff"/>
<path d="M892.63,428.51h14.4L899.83,441.21Z" fill="#0000ff"/>
<path d="M944.46,396.48h14.4L951.66,409.18Z" fill="#0000ff"/>
<path d="M1074.04,365.96h14.4L1081.24,378.66Z" fill="#0000ff"/>
<path d="M1229.54,335.87h14.4L1236.74,348.57Z" fill="#0000ff"/>
<path d="M1462.78,322.67h14.4L1469.98,335.37Z" fill="#0000ff"/>
<path d="M853.76,477.97h14.4L860.96,465.27Z" fill="#dd0000"/>
<path d="M866.72,477.02h14.4L873.92,464.32Z" fill="#dd0000"/>
<path d="M892.63,474.81h14.4L899.83,462.11Z" fill="#dd0000"/>
<path d="M944.46,466.72h14.4L951.66,454.02Z" fill="#dd0000"/>
<path d="M1074.04,454.60h14.4L1081.24,441.90Z" fill="#dd0000"/>
<path d="M1229.54,445.94h14.4L1236.74,433.24Z" fill="#dd0000"/>
<path d="M1462.78,439.44h14.4L1469.98,426.74Z" fill="#dd0000"/>
<path d="M840.80,483.60h14.4L848.00,470.90Z" fill="#dd0000"/>
<path d="M840.80,474.40h14.4L848.00,487.10Z" fill="#0000ff"/>
<path d="M852.30,472.20v13.6L840.40,479.00Z" fill="#88ff30"/>
<circle cx="848.00" cy="479.00" r="6.1" fill="#6600ff"/>
<rect x="843.00" y="474.00" width="10" height="10" fill="#dc00f8"/>
<path d="M860.96,289.39V316.23M855.96,289.39h10M855.96,316.23h10" stroke="#6600ff" stroke-width="1.1" fill="none"/>
<path d="M873.92,213.63V233.55M868.92,213.63h10M868.92,233.55h10" stroke="#6600ff" stroke-width="1.1" fill="none"/>
<path d="M899.83,155.62V193.72M894.83,155.62h10M894.83,193.72h10" stroke="#6600ff" stroke-width="1.1" fill="none"/>
<path d="M951.66,94.37V138.96M946.66,94.37h10M946.66,138.96h10" stroke="#6600ff" stroke-width="1.1" fill="none"/>
<path d="M1081.24,58.65V112.33M1076.24,58.65h10M1076.24,112.33h10" stroke="#6600ff" stroke-width="1.1" fill="none"/>
<path d="M1236.74,58.65V107.14M1231.74,58.65h10M1231.74,107.14h10" stroke="#6600ff" stroke-width="1.1" fill="none"/>
<path d="M1469.98,49.35V102.16M1464.98,49.35h10M1464.98,102.16h10" stroke="#6600ff" stroke-width="1.1" fill="none"/>
<path d="M860.96,350.00V359.52M855.96,350.00h10M855.96,359.52h10" stroke="#88ff30" stroke-width="1.1" fill="none"/>
<path d="M873.92,270.34V289.39M868.92,270.34h10M868.92,289.39h10" stroke="#88ff30" stroke-width="1.1" fill="none"/>
<path d="M899.83,206.06V229.87M894.83,206.06h10M894.83,229.87h10" stroke="#88ff30" stroke-width="1.1" fill="none"/>
<path d="M951.66,145.23V166.88M946.66,145.23h10M946.66,166.88h10" stroke="#88ff30" stroke-width="1.1" fill="none"/>
<path d="M1081.24,90.04V117.74M1076.24,90.04h10M1076.24,117.74h10" stroke="#88ff30" stroke-width="1.1" fill="none"/>
<path d="M1236.74,72.07V102.38M1231.74,72.07h10M1231.74,102.38h10" stroke="#88ff30" stroke-width="1.1" fill="none"/>
<path d="M1469.98,65.58V94.58M1464.98,65.58h10M1464.98,94.58h10" stroke="#88ff30" stroke-width="1.1" fill="none"/>
<path d="M860.96,427.92V436.58M855.96,427.92h10M855.96,436.58h10" stroke="#dc00f8" stroke-width="1.1" fill="none"/>
<path d="M873.92,393.07V411.68M868.92,393.07h10M868.92,411.68h10" stroke="#dc00f8" stroke-width="1.1" fill="none"/>
<path d="M899.83,325.75V350.00M894.83,325.75h10M894.83,350.00h10" stroke="#dc00f8" stroke-width="1.1" fill="none"/>
<path d="M951.66,249.13V270.78M946.66,249.13h10M946.66,270.78h10" stroke="#dc00f8" stroke-width="1.1" fill="none"/>
<path d="M1081.24,159.74V187.44M1076.24,159.74h10M1076.24,187.44h10" stroke="#dc00f8" stroke-width="1.1" fill="none"/>
<path d="M1236.74,126.62V156.92M1231.74,126.62h10M1231.74,156.92h10" stroke="#dc00f8" stroke-width="1.1" fill="none"/>
<path d="M1469.98,109.95V138.09M1464.98,109.95h10M1464.98,138.09h10" stroke="#dc00f8" stroke-width="1.1" fill="none"/>
<path d="M860.96,460.39V469.04M855.96,460.39h10M855.96,469.04h10" stroke="#0000ff" stroke-width="1.1" fill="none"/>
<path d="M873.92,440.47V459.09M868.92,440.47h10M868.92,459.09h10" stroke="#0000ff" stroke-width="1.1" fill="none"/>
<path d="M899.83,420.99V445.23M894.83,420.99h10M894.83,445.23h10" stroke="#0000ff" stroke-width="1.1" fill="none"/>
<path d="M951.66,390.47V411.68M946.66,390.47h10M946.66,411.68h10" stroke="#0000ff" stroke-width="1.1" fill="none"/>
<path d="M1081.24,356.71V384.41M1076.24,356.71h10M1076.24,384.41h10" stroke="#0000ff" stroke-width="1.1" fill="none"/>
<path d="M1236.74,325.32V355.62M1231.74,325.32h10M1231.74,355.62h10" stroke="#0000ff" stroke-width="1.1" fill="none"/>
<path d="M1469.98,313.20V341.34M1464.98,313.20h10M1464.98,341.34h10" stroke="#0000ff" stroke-width="1.1" fill="none"/>
<path d="M860.96,471.21V475.54M855.96,471.21h10M855.96,475.54h10" stroke="#dd0000" stroke-width="1.1" fill="none"/>
<path d="M873.92,468.09V476.75M868.92,468.09h10M868.92,476.75h10" stroke="#dd0000" stroke-width="1.1" fill="none"/>
<path d="M899.83,464.58V475.84M894.83,464.58h10M894.83,475.84h10" stroke="#dd0000" stroke-width="1.1" fill="none"/>
<path d="M951.66,456.49V467.74M946.66,456.49h10M946.66,467.74h10" stroke="#dd0000" stroke-width="1.1" fill="none"/>
<path d="M1081.24,440.47V459.52M1076.24,440.47h10M1076.24,459.52h10" stroke="#dd0000" stroke-width="1.1" fill="none"/>
<path d="M1236.74,430.95V451.73M1231.74,430.95h10M1231.74,451.73h10" stroke="#dd0000" stroke-width="1.1" fill="none"/>
<path d="M1469.98,422.72V446.97M1464.98,422.72h10M1464.98,446.97h10" stroke="#dd0000" stroke-width="1.1" fill="none"/></g>
<path d="M588,181.00H609M623,181.00H644" stroke="#6600ff" stroke-width="2.2"/>
<circle cx="616.00" cy="181.00" r="6.1" fill="#6600ff"/>
<text x="649" y="190.00" class="lg">pH 5.0</text>
<path d="M588,211.00H610M622,211.00H644" stroke="#88ff30" stroke-width="2.2"/>
<path d="M620.30,204.20v13.6L608.40,211.00Z" fill="#88ff30"/>
<text x="649" y="220.00" class="lg">pH 5.5</text>
<path d="M588,241.00H610M622,241.00H644" stroke="#dc00f8" stroke-width="2.2"/>
<rect x="611.00" y="236.00" width="10" height="10" fill="#dc00f8"/>
<text x="649" y="250.00" class="lg">pH 6.0</text>
<path d="M588,271.00H609M623,271.00H644" stroke="#0000ff" stroke-width="2.2"/>
<path d="M608.80,266.40h14.4L616.00,279.10Z" fill="#0000ff"/>
<text x="649" y="280.00" class="lg">pH 6.5</text>
<path d="M588,301.00H609M623,301.00H644" stroke="#dd0000" stroke-width="2.2"/>
<path d="M608.80,305.60h14.4L616.00,292.90Z" fill="#dd0000"/>
<text x="649" y="310.00" class="lg">pH 7.4</text>
<path d="M1357.3,163.00H1378.3M1392.3,163.00H1413.3" stroke="#6600ff" stroke-width="2.2"/>
<circle cx="1385.30" cy="163.00" r="6.1" fill="#6600ff"/>
<text x="1418.3" y="172.00" class="lg">pH 5.0</text>
<path d="M1357.3,193.00H1379.3M1391.3,193.00H1413.3" stroke="#88ff30" stroke-width="2.2"/>
<path d="M1389.60,186.20v13.6L1377.70,193.00Z" fill="#88ff30"/>
<text x="1418.3" y="202.00" class="lg">pH 5.5</text>
<path d="M1357.3,223.00H1379.3M1391.3,223.00H1413.3" stroke="#dc00f8" stroke-width="2.2"/>
<rect x="1380.30" y="218.00" width="10" height="10" fill="#dc00f8"/>
<text x="1418.3" y="232.00" class="lg">pH 6.0</text>
<path d="M1357.3,253.00H1378.3M1392.3,253.00H1413.3" stroke="#0000ff" stroke-width="2.2"/>
<path d="M1378.10,248.40h14.4L1385.30,261.10Z" fill="#0000ff"/>
<text x="1418.3" y="262.00" class="lg">pH 6.5</text>
<path d="M1357.3,283.00H1378.3M1392.3,283.00H1413.3" stroke="#dd0000" stroke-width="2.2"/>
<path d="M1378.10,287.60h14.4L1385.30,274.90Z" fill="#dd0000"/>
<text x="1418.3" y="292.00" class="lg">pH 7.4</text>
<path d="M82,7H730V483.5H82Z" fill="none" stroke="#000" stroke-width="2"/>
<path d="M71,479.00H82" stroke="#000" stroke-width="2"/>
<text transform="translate(65.7,485.60) scale(0.9,1)" text-anchor="end" class="tk">0</text>
<path d="M76,435.71H82" stroke="#000" stroke-width="2"/>
<path d="M71,392.42H82" stroke="#000" stroke-width="2"/>
<text transform="translate(65.7,399.02) scale(0.9,1)" text-anchor="end" class="tk">20</text>
<path d="M76,349.13H82" stroke="#000" stroke-width="2"/>
<path d="M71,305.84H82" stroke="#000" stroke-width="2"/>
<text transform="translate(65.7,312.44) scale(0.9,1)" text-anchor="end" class="tk">40</text>
<path d="M76,262.55H82" stroke="#000" stroke-width="2"/>
<path d="M71,219.26H82" stroke="#000" stroke-width="2"/>
<text transform="translate(65.7,225.86) scale(0.9,1)" text-anchor="end" class="tk">60</text>
<path d="M76,175.97H82" stroke="#000" stroke-width="2"/>
<path d="M71,132.68H82" stroke="#000" stroke-width="2"/>
<text transform="translate(65.7,139.28) scale(0.9,1)" text-anchor="end" class="tk">80</text>
<path d="M76,89.39H82" stroke="#000" stroke-width="2"/>
<path d="M71,46.10H82" stroke="#000" stroke-width="2"/>
<text transform="translate(65.7,52.70) scale(0.9,1)" text-anchor="end" class="tk">100</text>
<path d="M82.00,483.5V493.5" stroke="#000" stroke-width="2"/>
<text transform="translate(82.00,515.6) scale(0.9,1)" text-anchor="middle" class="tk">0</text>
<path d="M159.75,483.5V488.5" stroke="#000" stroke-width="2"/>
<path d="M237.50,483.5V493.5" stroke="#000" stroke-width="2"/>
<text transform="translate(237.50,515.6) scale(0.9,1)" text-anchor="middle" class="tk">12</text>
<path d="M315.24,483.5V488.5" stroke="#000" stroke-width="2"/>
<path d="M392.99,483.5V493.5" stroke="#000" stroke-width="2"/>
<text transform="translate(392.99,515.6) scale(0.9,1)" text-anchor="middle" class="tk">24</text>
<path d="M470.74,483.5V488.5" stroke="#000" stroke-width="2"/>
<path d="M548.49,483.5V493.5" stroke="#000" stroke-width="2"/>
<text transform="translate(548.49,515.6) scale(0.9,1)" text-anchor="middle" class="tk">36</text>
<path d="M626.24,483.5V488.5" stroke="#000" stroke-width="2"/>
<path d="M703.98,483.5V493.5" stroke="#000" stroke-width="2"/>
<text transform="translate(703.98,515.6) scale(0.9,1)" text-anchor="middle" class="tk">48</text>
<text x="393.29" y="543" text-anchor="middle" class="ti">Time/h</text>
<text transform="translate(36.4,245.5) rotate(-90)" text-anchor="middle" class="ti2">Released CA4/%</text>
<text transform="translate(1.5999999999999943,32.2) scale(1.083,1.03)" class="lt">A</text>
<path d="M848,7H1496V483.5H848Z" fill="none" stroke="#000" stroke-width="2"/>
<path d="M837,479.00H848" stroke="#000" stroke-width="2"/>
<text transform="translate(831.7,485.60) scale(0.9,1)" text-anchor="end" class="tk">0</text>
<path d="M842,435.71H848" stroke="#000" stroke-width="2"/>
<path d="M837,392.42H848" stroke="#000" stroke-width="2"/>
<text transform="translate(831.7,399.02) scale(0.9,1)" text-anchor="end" class="tk">20</text>
<path d="M842,349.13H848" stroke="#000" stroke-width="2"/>
<path d="M837,305.84H848" stroke="#000" stroke-width="2"/>
<text transform="translate(831.7,312.44) scale(0.9,1)" text-anchor="end" class="tk">40</text>
<path d="M842,262.55H848" stroke="#000" stroke-width="2"/>
<path d="M837,219.26H848" stroke="#000" stroke-width="2"/>
<text transform="translate(831.7,225.86) scale(0.9,1)" text-anchor="end" class="tk">60</text>
<path d="M842,175.97H848" stroke="#000" stroke-width="2"/>
<path d="M837,132.68H848" stroke="#000" stroke-width="2"/>
<text transform="translate(831.7,139.28) scale(0.9,1)" text-anchor="end" class="tk">80</text>
<path d="M842,89.39H848" stroke="#000" stroke-width="2"/>
<path d="M837,46.10H848" stroke="#000" stroke-width="2"/>
<text transform="translate(831.7,52.70) scale(0.9,1)" text-anchor="end" class="tk">100</text>
<path d="M848.00,483.5V493.5" stroke="#000" stroke-width="2"/>
<text transform="translate(848.00,515.6) scale(0.9,1)" text-anchor="middle" class="tk">0</text>
<path d="M925.75,483.5V488.5" stroke="#000" stroke-width="2"/>
<path d="M1003.50,483.5V493.5" stroke="#000" stroke-width="2"/>
<text transform="translate(1003.50,515.6) scale(0.9,1)" text-anchor="middle" class="tk">12</text>
<path d="M1081.24,483.5V488.5" stroke="#000" stroke-width="2"/>
<path d="M1158.99,483.5V493.5" stroke="#000" stroke-width="2"/>
<text transform="translate(1158.99,515.6) scale(0.9,1)" text-anchor="middle" class="tk">24</text>
<path d="M1236.74,483.5V488.5" stroke="#000" stroke-width="2"/>
<path d="M1314.49,483.5V493.5" stroke="#000" stroke-width="2"/>
<text transform="translate(1314.49,515.6) scale(0.9,1)" text-anchor="middle" class="tk">36</text>
<path d="M1392.24,483.5V488.5" stroke="#000" stroke-width="2"/>
<path d="M1469.98,483.5V493.5" stroke="#000" stroke-width="2"/>
<text transform="translate(1469.98,515.6) scale(0.9,1)" text-anchor="middle" class="tk">48</text>
<text x="1159.29" y="543" text-anchor="middle" class="ti">Time/h</text>
<text transform="translate(802.4,245.5) rotate(-90)" text-anchor="middle" class="ti2">Released MIT/%</text>
<text transform="translate(758.8,32.2) scale(1.0,1.03)" class="lt">B</text>
</svg>
</body></html>
